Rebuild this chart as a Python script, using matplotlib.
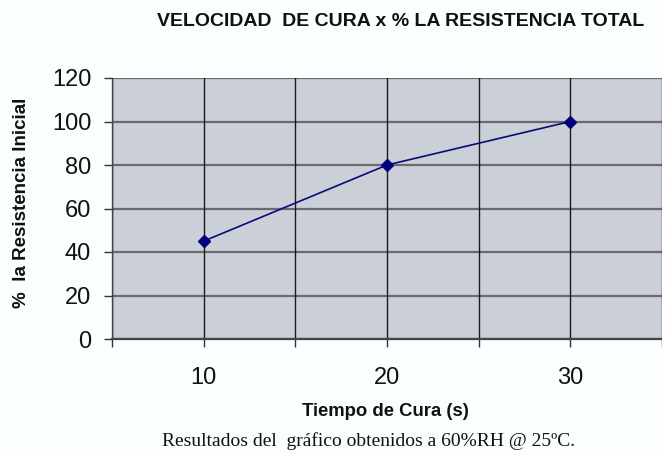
import matplotlib
matplotlib.use("Agg")
import matplotlib.pyplot as plt

# Data
tiempo = [10, 20, 30]
resistencia = [45, 80, 100]
x_ticks = [5, 10, 15, 20, 25, 30, 35]
x_tick_labels = ["", "10", "", "20", "", "30", ""]
y_ticks = [0, 20, 40, 60, 80, 100, 120]

title = "VELOCIDAD  DE CURA x % LA RESISTENCIA TOTAL"
xlabel = "Tiempo de Cura (s)"
ylabel = "%  la Resistencia Inicial"
caption = "Resultados del  gráfico obtenidos a 60%RH @ 25ºC."

plt.rcParams['font.family'] = ['Liberation Sans', 'DejaVu Sans']

fig = plt.figure(figsize=(6.62, 4.54), dpi=100)
fig.patch.set_facecolor('#fafefe')
ax = fig.add_axes([112/662, 1-339/454, 1-112/662, (339-78)/454])
ax.set_facecolor('#cbcfd8')

ax.set_xlim(5, 35)
ax.set_ylim(0, 120)
ax.set_xticks(x_ticks)
ax.set_xticklabels(x_tick_labels)
ax.set_yticks(y_ticks)

# gridlines
for yv in y_ticks:
    ax.axhline(yv, color='#6a6a6a', lw=1.6, zorder=1)
for xv in x_ticks:
    ax.axvline(xv, color='#1a1a1a', lw=1.0, zorder=1)

ax.plot(tiempo, resistencia, color='#0a0a78', lw=1.2, marker='D',
        markersize=6, markerfacecolor='#00007a', markeredgecolor='#00007a', zorder=3)

for s in ['top', 'right']:
    ax.spines[s].set_visible(False)
ax.spines['left'].set_color('#444444')
ax.spines['left'].set_linewidth(1.0)
ax.spines['bottom'].set_color('#444444')
ax.spines['bottom'].set_linewidth(1.6)

ax.tick_params(axis='y', direction='out', length=6, width=1, color='#333333',
               labelsize=17, pad=9, labelcolor='#111111')
ax.tick_params(axis='x', direction='out', length=6, width=1, color='#333333',
               labelsize=17, pad=14, labelcolor='#111111')

fig.text(401/662, 1-22/454, title, ha='center', va='center', fontsize=14,
         fontweight='bold', color='#111111')
fig.text(385/662, 1-411/454, xlabel, ha='center', va='center', fontsize=13.3,
         fontweight='bold', color='#111111')
fig.text(22/662, 1-203/454, ylabel, ha='center', va='center', rotation=90,
         fontsize=13.5, fontweight='bold', color='#111111')
fig.text(369/662, 1-441/454, caption, ha='center', va='center', fontsize=14,
         family=['Liberation Serif', 'DejaVu Serif'], color='#111111')

fig.savefig('out.png', dpi=100, facecolor=fig.get_facecolor())
